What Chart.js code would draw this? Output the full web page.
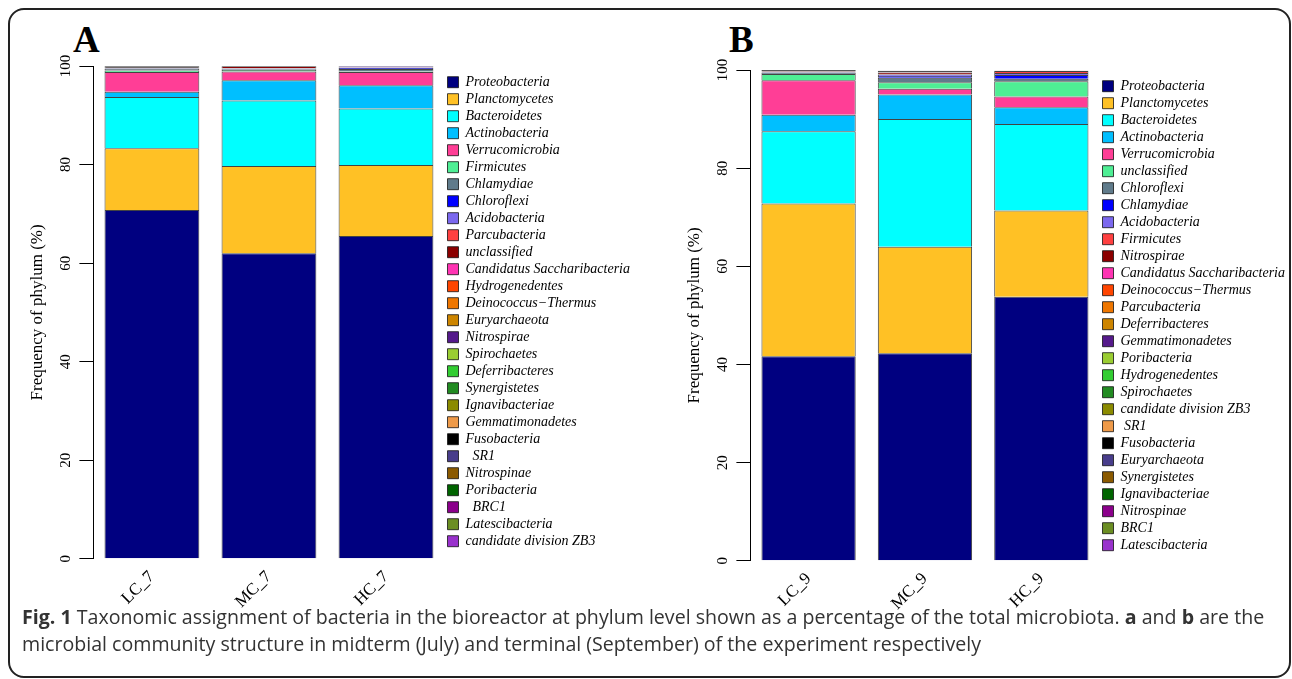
<!DOCTYPE html>
<html>
<head>
<meta charset="utf-8">
<script src="https://cdn.jsdelivr.net/npm/chart.js@4"></script>
<style>
  body { margin: 0; background: #fff; width: 1292px; height: 679px; position: relative; overflow: hidden; }
  .frame { position: absolute; left: 8px; top: 8px; width: 1279px; height: 666px; border: 2px solid #222; border-radius: 16px; }
  .panel-letter { position: absolute; font-family: "Liberation Serif", serif; font-weight: bold; font-size: 37px; line-height: 1; }
  .chart-box { position: absolute; }
  .caption { position: absolute; left: 22px; top: 603px; white-space: nowrap; font-family: "Open Sans", sans-serif; font-size: 19.6px; line-height: 27px; color: #333; }
</style>
</head>
<body>
<div class="frame"></div>
<div class="panel-letter" style="left:73px; top:21px;">A</div>
<div class="panel-letter" style="left:729px; top:21px;">B</div>
<div class="chart-box" style="left:23px; top:55px; width:617px; height:557px;"><canvas id="chart-a"></canvas></div>
<div class="chart-box" style="left:680px; top:59px; width:615px; height:555px;"><canvas id="chart-b"></canvas></div>
<div class="caption"><b>Fig. 1</b> Taxonomic assignment of bacteria in the bioreactor at phylum level shown as a percentage of the total microbiota. <b>a</b> and <b>b</b> are the<br>microbial community structure in midterm (July) and terminal (September) of the experiment respectively</div>

<script>
// panel A (July)
const samplesA = ['LC_7', 'MC_7', 'HC_7'];
const phylaA = [
  'Proteobacteria', 'Planctomycetes', 'Bacteroidetes', 'Actinobacteria', 'Verrucomicrobia',
  'Firmicutes', 'Chlamydiae', 'Chloroflexi', 'Acidobacteria', 'Parcubacteria',
  'unclassified', 'Candidatus Saccharibacteria', 'Hydrogenedentes', 'Deinococcus\u2212Thermus',
  'Euryarchaeota', 'Nitrospirae', 'Spirochaetes', 'Deferribacteres', 'Synergistetes',
  'Ignavibacteriae', 'Gemmatimonadetes', 'Fusobacteria', '  SR1', 'Nitrospinae',
  'Poribacteria', '  BRC1', 'Latescibacteria', 'candidate division ZB3',
];
const lc7 = [70.8, 12.5, 10.4, 1.1, 4.0, 0.3, 0.4, 0.05, 0.05, 0, 0.05, 0, 0, 0,
  0, 0, 0, 0, 0, 0, 0, 0.3, 0.05, 0, 0, 0, 0, 0];
const mc7 = [62.0, 17.7, 13.3, 4.1, 1.8, 0.3, 0.15, 0.1, 0.1, 0.05, 0.35, 0, 0, 0,
  0, 0, 0, 0, 0, 0, 0, 0, 0, 0, 0, 0, 0, 0];
const hc7 = [65.5, 14.4, 11.5, 4.7, 2.7, 0.1, 0.5, 0.2, 0.1, 0.05, 0.05, 0, 0, 0,
  0, 0.1, 0, 0, 0, 0, 0, 0, 0.2, 0, 0, 0, 0, 0];

// panel B (September)
const samplesB = ['LC_9', 'MC_9', 'HC_9'];
const phylaB = [
  'Proteobacteria', 'Planctomycetes', 'Bacteroidetes', 'Actinobacteria', 'Verrucomicrobia',
  'unclassified', 'Chloroflexi', 'Chlamydiae', 'Acidobacteria', 'Firmicutes',
  'Nitrospirae', 'Candidatus Saccharibacteria', 'Deinococcus\u2212Thermus', 'Parcubacteria',
  'Deferribacteres', 'Gemmatimonadetes', 'Poribacteria', 'Hydrogenedentes', 'Spirochaetes',
  'candidate division ZB3', ' SR1', 'Fusobacteria', 'Euryarchaeota', 'Synergistetes',
  'Ignavibacteriae', 'Nitrospinae', 'BRC1', 'Latescibacteria',
];
const lc9 = [41.7, 31.1, 14.7, 3.4, 7.0, 1.3, 0.3, 0.05, 0.05, 0.05, 0.05, 0, 0, 0,
  0, 0, 0, 0, 0, 0, 0, 0.3, 0, 0, 0, 0, 0, 0];
const mc9 = [42.3, 21.7, 26.0, 5.0, 1.2, 1.3, 0.9, 0.4, 0.3, 0.1, 0.3, 0.05, 0, 0,
  0, 0, 0, 0, 0, 0, 0, 0.3, 0, 0, 0, 0, 0, 0];
const hc9 = [53.8, 17.6, 17.6, 3.4, 2.2, 3.1, 0.5, 0.8, 0.4, 0.4, 0.05, 0, 0, 0,
  0, 0, 0, 0, 0, 0, 0, 0, 0, 0, 0, 0, 0, 0];

const yTicks = [0, 20, 40, 60, 80, 100];

// same colour order is reused in both panels
const palette = [
  '#000080', '#FFC125', '#00FFFF', '#00BFFF', '#FF3E96', '#4EEE94', '#607B8B',
  '#0000FF', '#7B68EE', '#FF4040', '#8B0000', '#FF34B3', '#FF4500', '#EE7600',
  '#CD8500', '#551A8B', '#9ACD32', '#32CD32', '#228B22', '#8B8B00', '#EE9A49',
  '#000000', '#483D8B', '#8B5A00', '#006400', '#8B008B', '#6B8E23', '#9932CC',
];

const serif = 'Liberation Serif';


function makeChart(canvasId, labels, phyla, samples, legendTop) {
  const datasets = phyla.map((name, i) => ({
    label: name,
    data: samples.map(s => s[i]),
    backgroundColor: palette[i],
    borderColor: 'rgba(20,20,20,0.8)',
    borderWidth: 1,
    barPercentage: 0.81,
    categoryPercentage: 1,
  }));

  return new Chart(document.getElementById(canvasId), {
    type: 'bar',
    data: { labels, datasets },
    options: {
      responsive: true,
      maintainAspectRatio: false,
      animation: false,
      layout: { padding: { top: 10, right: 0, left: 0, bottom: 0 } },
      plugins: {
        tooltip: { enabled: false },
        legend: {
          position: 'right',
          align: 'start',
          maxWidth: 220,
          // empty title only pushes the list down a little
          title: { display: true, text: '', padding: 0, font: { size: legendTop } },
          labels: {
            boxWidth: 11,
            boxHeight: 11,
            padding: 3,
            color: '#000',
            font: { family: serif, style: 'italic', size: 14 },
          },
        },
      },
      scales: {
        x: {
          stacked: true,
          grid: { display: false },
          border: { display: false },
          ticks: {
            color: '#000',
            minRotation: 45,
            maxRotation: 45,
            padding: 0,
            font: { family: serif, size: 17 },
          },
        },
        y: {
          stacked: true,
          min: 0,
          max: 100,
          afterBuildTicks: axis => {
            axis.ticks = yTicks.map(v => ({ value: v }));
          },
          grid: { display: true, drawOnChartArea: false, drawTicks: true, tickLength: 14, color: '#000' },
          border: { display: true, color: '#000', width: 1 },
          ticks: {
            color: '#000',
            minRotation: 90,
            maxRotation: 90,
            crossAlign: 'center',
            padding: 2,
            font: { family: serif, size: 15 },
          },
          title: {
            display: true,
            text: 'Frequency of phylum (%)',
            color: '#000',
            padding: { top: 4, bottom: 10 },
            font: { family: serif, size: 17 },
          },
        },
      },
    },
  });
}


makeChart('chart-a', samplesA, phylaA, [lc7, mc7, hc7], 6);
makeChart('chart-b', samplesB, phylaB, [lc9, mc9, hc9], 6);
</script>
</body>
</html>
